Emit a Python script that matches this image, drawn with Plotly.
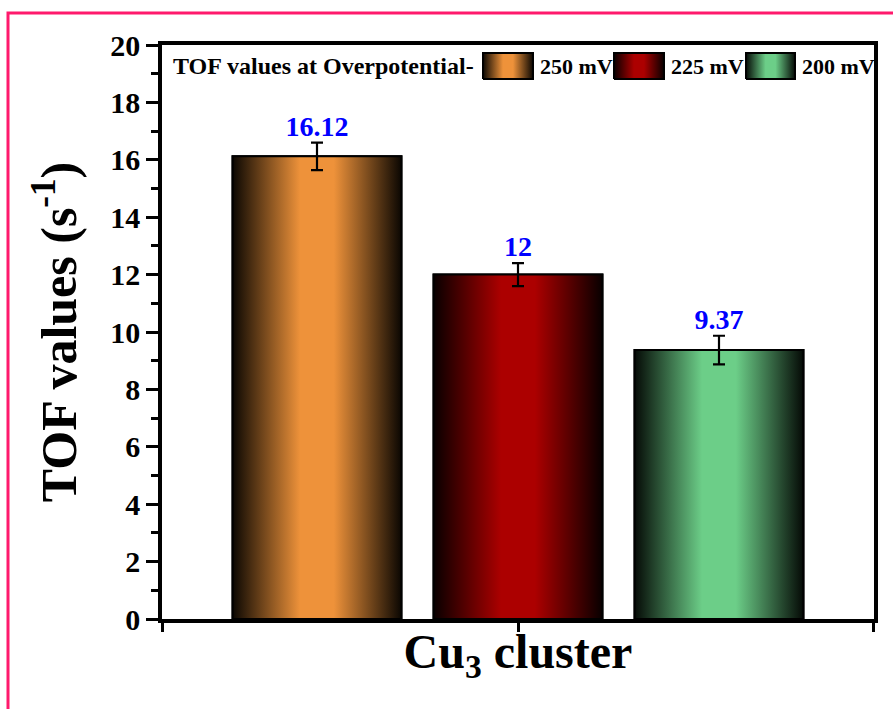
import plotly.graph_objects as go

# ---------------- data ----------------
category_label = "Cu<sub>3</sub> cluster"
series_names = ["250 mV", "225 mV", "200 mV"]
tof_values = [16.12, 12.0, 9.37]
tof_errors = [0.48, 0.40, 0.50]
value_labels = ["16.12", "12", "9.37"]
y_tick_vals = [0, 2, 4, 6, 8, 10, 12, 14, 16, 18, 20]
legend_title = "TOF values at Overpotential-"
y_title = "TOF values (s<sup>-1</sup>)"

# ---------------- styles ----------------
bar_rgb = [(238, 146, 58), (172, 0, 0), (108, 206, 136)]
FONT = "Liberation Serif, Times New Roman, serif"
W, H = 893, 709
ML, MR, MT, MB = 162, 19, 45, 90
PW, PH = W - ML - MR, H - MT - MB

SLOT = 1.0 / 3.0          # each series' slot inside the category group (group width = 1)
GROUPGAP = 0.16           # fraction of slot left empty between bars
GROUP_PX = 603.0          # pixel width of one group unit
R = PW / 2.0 / GROUP_PX   # half range of x axis


def grad_scale(rgb):
    r, g, b = rgb
    dark = "rgb(%d,%d,%d)" % (r * 0.05, g * 0.05, b * 0.05)
    full = "rgb(%d,%d,%d)" % (r, g, b)
    return [[0.0, dark], [0.4, full], [0.6, full], [1.0, dark]]


def px_to_paper(px, py):
    return (px - ML) / PW, (H - MB - py) / PH


fig = go.Figure()

centers = [(i - 1) * SLOT for i in range(len(tof_values))]
bw = SLOT * (1 - GROUPGAP)

# base bars
for i, (name, v) in enumerate(zip(series_names, tof_values)):
    fig.add_trace(go.Bar(
        x=[centers[i]], y=[v], width=[bw], name=name,
        marker=dict(color="rgb(%d,%d,%d)" % bar_rgb[i], line=dict(color="black", width=2)),
        showlegend=False, hoverinfo="skip",
    ))

# gradient overlay for each bar (same geometry as the bars)
for i, v in enumerate(tof_values):
    x0, x1 = centers[i] - bw / 2, centers[i] + bw / 2
    fig.add_trace(go.Scatter(
        x=[x0, x1, x1, x0, x0], y=[0, 0, v, v, 0],
        mode="lines", fill="toself",
        fillgradient=dict(type="horizontal", colorscale=grad_scale(bar_rgb[i])),
        line=dict(color="black", width=2),
        showlegend=False, hoverinfo="skip",
    ))

# error bars
fig.add_trace(go.Scatter(
    x=centers, y=tof_values, mode="markers",
    marker=dict(size=1, color="rgba(0,0,0,0)"),
    error_y=dict(type="data", array=tof_errors, visible=True, color="black", thickness=2.2, width=6),
    showlegend=False, hoverinfo="skip",
))

# value labels
fig.add_trace(go.Scatter(
    x=centers, y=[v + e for v, e in zip(tof_values, tof_errors)],
    mode="text", text=value_labels, textposition="top center",
    textfont=dict(family=FONT, size=28, color="#0000ff", weight="bold"),
    showlegend=False, hoverinfo="skip", cliponaxis=False,
))

# ---------------- manual legend ----------------
legend_y_px = 66
swatch_px = [(483, 533), (614, 664), (746, 795)]
label_px = [538, 669, 800]
sw_top, sw_bot = 53, 79
for i in range(len(series_names)):
    (a, b) = swatch_px[i]
    xa, yt = px_to_paper(a, sw_top)
    xb, yb = px_to_paper(b, sw_bot)
    fig.add_trace(go.Scatter(
        x=[xa, xb, xb, xa, xa], y=[yb, yb, yt, yt, yb], xaxis="x2", yaxis="y2",
        mode="lines", fill="toself",
        fillgradient=dict(type="horizontal", colorscale=grad_scale(bar_rgb[i])),
        line=dict(color="black", width=2),
        showlegend=False, hoverinfo="skip",
    ))

annotations = []
tx, ty = px_to_paper(171, legend_y_px)
annotations.append(dict(x=tx, y=ty, xref="paper", yref="paper", text=legend_title,
                        showarrow=False, xanchor="left", yanchor="middle",
                        font=dict(family=FONT, size=24, color="black", weight="bold")))
for i, name in enumerate(series_names):
    lx, ly = px_to_paper(label_px[i], legend_y_px)
    annotations.append(dict(x=lx, y=ly, xref="paper", yref="paper", text=name,
                            showarrow=False, xanchor="left", yanchor="middle",
                            font=dict(family=FONT, size=22, color="black", weight="bold")))

# pink frame
bx0, by1 = px_to_paper(8, 13)
shapes = [dict(type="rect", xref="paper", yref="paper", x0=bx0, y0=-0.5, x1=1.5, y1=by1,
               line=dict(color="#ff1a6c", width=3), fillcolor="rgba(0,0,0,0)", layer="below")]

fig.update_layout(
    width=W, height=H,
    margin=dict(l=ML, r=MR, t=MT, b=MB),
    paper_bgcolor="white", plot_bgcolor="white",
    barmode="overlay",
    showlegend=False,
    annotations=annotations,
    shapes=shapes,
    font=dict(family=FONT, color="black"),
    xaxis=dict(
        range=[-R, R], showgrid=False, zeroline=False,
        showline=True, linecolor="black", linewidth=3.5, mirror=True,
        ticks="outside", ticklen=9, tickwidth=3, tickcolor="black",
        tickvals=[-R * 0.999, 0, R * 0.999], showticklabels=False,
        title=dict(text=category_label, standoff=5,
                   font=dict(family=FONT, size=48, color="black", weight="bold")),
    ),
    yaxis=dict(
        range=[0, 20], showgrid=False, zeroline=False,
        showline=True, linecolor="black", linewidth=3.5, mirror=True,
        ticks="outside", ticklen=12, tickwidth=3, tickcolor="black",
        tickvals=y_tick_vals,
        tickfont=dict(family=FONT, size=30, color="black", weight="bold"),
        minor=dict(dtick=1, ticks="outside", ticklen=7, tickwidth=3, tickcolor="black"),
        title=dict(text=y_title, standoff=19,
                   font=dict(family=FONT, size=50, color="black", weight="bold")),
    ),
    xaxis2=dict(range=[0, 1], overlaying="x", visible=False, fixedrange=True),
    yaxis2=dict(range=[0, 1], overlaying="y", visible=False, fixedrange=True),
)

fig.write_html("out.html", config={"displayModeBar": False},
               post_script="document.body.style.margin='0';")
